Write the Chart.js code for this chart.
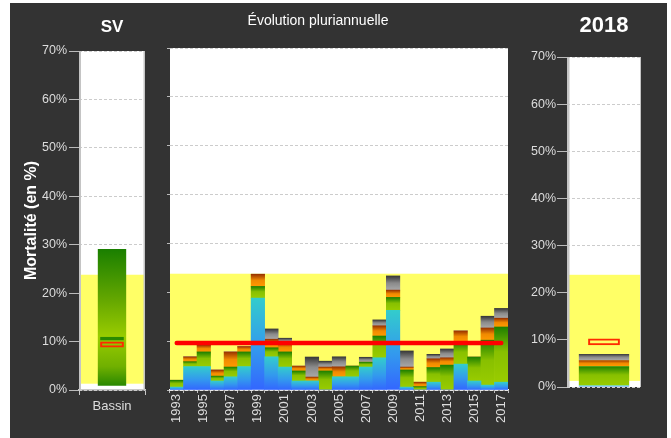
<!DOCTYPE html>
<html>
<head>
<meta charset="utf-8">
<script src="https://cdn.jsdelivr.net/npm/chart.js@4"></script>
<style>
  html, body { margin: 0; padding: 0; background: #ffffff; }
  body { width: 671px; height: 438px; position: relative; overflow: hidden; }
  #frame { position: absolute; left: 10px; top: 3px; width: 657px; height: 435px; background: #333333; }
  canvas { position: absolute; top: 3px; }
</style>
</head>
<body>
<div id="frame"></div>
<canvas id="basin" width="150" height="435" style="left:10px"></canvas>
<canvas id="history" width="360" height="435" style="left:160px"></canvas>
<canvas id="current" width="147" height="435" style="left:520px"></canvas>
<script>
// multi-year history, % mortality split by cause
const years = ['1993', '1994', '1995', '1996', '1997', '1998', '1999', '2000', '2001', '2002', '2003', '2004', '2005',
               '2006', '2007', '2008', '2009', '2010', '2011', '2012', '2013', '2014', '2015', '2016', '2017']
const blue   = [0.6, 4.8, 4.8, 1.85, 2.7, 4.8, 18.8, 6.8, 4.7, 1.85, 1.85, 0, 2.7, 2.7, 4.7, 6.6, 16.3, 0.6, 0, 1.6, 0, 5.3, 1.85, 1.0, 1.6]
const green  = [1.4, 1.0, 3.0, 1.0, 2.0, 3.0, 2.4, 1.85, 3.1, 2.05, 0, 3.9, 0, 2.2, 1.0, 4.45, 2.65, 3.5, 0.7, 3.0, 5.1, 4.5, 4.9, 9.2, 11.3]
const orange = [0, 1.0, 1.4, 1.25, 3.1, 1.1, 2.5, 1.75, 1.9, 1.0, 0.8, 0.8, 2.05, 0, 0, 2.1, 1.5, 0.6, 0.9, 1.8, 1.5, 2.3, 0, 2.5, 1.8]
const grey   = [0, 0, 0, 0, 0, 0, 0, 2.1, 0.9, 0, 4.1, 1.2, 2.05, 0, 1.0, 1.2, 2.9, 3.3, 0, 0.9, 1.8, 0, 0, 2.4, 2.0]
const meanValue = 9.6

// basin summary
const basinLabels = ['Bassin']
const basinRange  = [0.9, 29.1]
const basinMedian = [10.2, 11.0]
const basinMean   = [8.8, 10.0]

// current year
const currentLabels = ['2018']
const currentBlue   = [0.3]
const currentGreen  = [4.1]
const currentOrange = [1.3]
const currentGrey   = [1.3]
const currentMean   = [8.85, 10.3]

// reference band and axis
const bandLow = 1.3
const bandHigh = 23.8
const yMax = 70
const yStep = 10

const blueStops   = [[0, '#3366ff'], [0.45, '#3399ee'], [1, '#33cccc']]
const greenStops  = [[0, '#99cc00'], [0.55, '#88c000'], [1, '#1f8000']]
const orangeStops = [[0, '#ff9900'], [0.5, '#f08a00'], [1, '#993300']]
const greyStops   = [[0, '#a8a8a8'], [0.5, '#8a8a8a'], [1, '#383838']]
const basinStops  = [[0, '#2a8800'], [0.14, '#70b000'], [0.36, '#99cc00'], [0.62, '#66a800'], [1, '#1a7f00']]

Chart.defaults.font.family = '"Liberation Sans", Arial, sans-serif'
Chart.defaults.color = '#dddddd'

// vertical gradient over one bar segment, computed through the y scale
function segmentFill(stops) {
    return c => {
        const chart = c.chart
        const yScale = chart.scales.y
        if (c.type !== 'data' || !yScale) return stops[0][1]
        const sets = chart.data.datasets
        const me = sets[c.datasetIndex]
        const raw = me.data[c.dataIndex]
        let lo, hi
        if (Array.isArray(raw)) {
            lo = raw[0]; hi = raw[1]
        } else {
            lo = 0
            for (let k = 0; k < c.datasetIndex; k++) {
                if (sets[k].stack === me.stack) lo += +sets[k].data[c.dataIndex] || 0
            }
            hi = lo + (+raw || 0)
        }
        const y0 = yScale.getPixelForValue(lo)
        const y1 = yScale.getPixelForValue(hi)
        if (!isFinite(y0) || !isFinite(y1) || Math.abs(y0 - y1) < 0.5) return stops[0][1]
        const g = chart.ctx.createLinearGradient(0, y0, 0, y1)
        stops.forEach(s => g.addColorStop(s[0], s[1]))
        return g
    }
}

const panel = {
    id: 'panel',
    beforeDraw(chart) {
        const { ctx, chartArea: a } = chart
        ctx.save()
        ctx.fillStyle = '#ffffff'
        ctx.fillRect(a.left, a.top, a.width, a.height)
        ctx.restore()
    },
    beforeDatasetsDraw(chart, args, opts) {
        const { ctx, chartArea: a, scales: { y } } = chart
        const top = y.getPixelForValue(opts.high)
        const bottom = y.getPixelForValue(opts.low)
        ctx.save()
        ctx.fillStyle = '#ffff66'
        ctx.fillRect(a.left, top, a.width, bottom - top)
        ctx.restore()
    },
    afterDraw(chart, args, opts) {
        const { ctx, chartArea: a } = chart
        ctx.save()
        ctx.strokeStyle = '#c4c4c4'
        if (opts.leftBorder) {
            ctx.lineWidth = opts.leftBorder
            ctx.beginPath(); ctx.moveTo(a.left + opts.leftBorder / 2, a.top); ctx.lineTo(a.left + opts.leftBorder / 2, a.bottom); ctx.stroke()
        }
        if (opts.rightBorder) {
            ctx.lineWidth = opts.rightBorder
            ctx.beginPath(); ctx.moveTo(a.right - opts.rightBorder / 2, a.top); ctx.lineTo(a.right - opts.rightBorder / 2, a.bottom); ctx.stroke()
        }
        if (opts.title) {
            ctx.fillStyle = '#ffffff'
            ctx.font = opts.titleFont
            ctx.textAlign = 'center'
            ctx.textBaseline = 'middle'
            ctx.fillText(opts.title, (a.left + a.right) / 2 + (opts.titleDx || 0), opts.titleY)
        }
        ctx.restore()
    }
}

const tickFont = { size: 12.5 }
const gridStyle = { color: '#cccccc', tickColor: '#bbbbbb', lineWidth: 1 }
const percent = v => v + '%'

// left: basin
new Chart(document.getElementById('basin'), {
    type: 'bar',
    data: {
        labels: basinLabels,
        datasets: [
            { data: [basinMedian], backgroundColor: 'rgba(0,0,0,0)', borderColor: '#2a8a00', borderWidth: 2, borderSkipped: false,
              grouped: false, barPercentage: 0.36, categoryPercentage: 1, order: 1 },
            { data: [basinMean], backgroundColor: 'rgba(0,0,0,0)', borderColor: '#ff2a00', borderWidth: 2, borderSkipped: false,
              grouped: false, barPercentage: 0.36, categoryPercentage: 1, order: 1 },
            { data: [basinRange], backgroundColor: segmentFill(basinStops),
              grouped: false, barPercentage: 0.43, categoryPercentage: 1, order: 2 }
        ]
    },
    options: {
        responsive: false, animation: false, events: [],
        layout: { padding: { top: 48, right: 15, left: 0, bottom: 0 } },
        plugins: {
            legend: { display: false }, tooltip: { enabled: false },
            panel: { low: bandLow, high: bandHigh, leftBorder: 2, rightBorder: 1.5,
                     title: 'SV', titleFont: 'bold 17px "Liberation Sans", Arial, sans-serif', titleY: 24 }
        },
        scales: {
            x: {
                grid: { offset: true, drawOnChartArea: false, tickLength: 5, tickColor: '#c8c8c8' },
                border: { color: '#c8c8c8', width: 1.5 },
                ticks: { font: { size: 13 }, padding: 4, color: '#dddddd' },
                afterFit: s => { s.height = 48 }
            },
            y: {
                min: 0, max: yMax,
                grid: { ...gridStyle, tickLength: 10 },
                border: { display: false, dash: [3, 2] },
                ticks: { stepSize: yStep, callback: percent, font: tickFont, padding: 2 },
                title: { display: true, text: 'Mortalité (en %)', color: '#ffffff',
                         font: { size: 16, weight: 'bold' }, padding: { top: 12, bottom: 0 } },
                afterFit: s => { s.width = 69 }
            }
        }
    },
    plugins: [panel]
})

// middle: multi-year evolution
new Chart(document.getElementById('history'), {
    type: 'bar',
    data: {
        labels: years,
        datasets: [
            { data: blue, backgroundColor: segmentFill(blueStops), stack: 's', order: 1 },
            { data: green, backgroundColor: segmentFill(greenStops), stack: 's', order: 1 },
            { data: orange, backgroundColor: segmentFill(orangeStops), stack: 's', order: 1 },
            { data: grey, backgroundColor: segmentFill(greyStops), stack: 's', order: 1 },
            { type: 'line', data: [{ x: years[0], y: meanValue }, { x: years[years.length - 1], y: meanValue }],
              borderColor: '#ff0000', borderWidth: 4.5, borderCapStyle: 'round', pointRadius: 0, order: 0 }
        ]
    },
    options: {
        responsive: false, animation: false, events: [],
        barPercentage: 1, categoryPercentage: 1,
        layout: { padding: { top: 45, right: 12, left: 0, bottom: 0 } },
        plugins: {
            legend: { display: false }, tooltip: { enabled: false },
            panel: { low: bandLow, high: bandHigh,
                     title: 'Évolution pluriannuelle', titleFont: '14px "Liberation Sans", Arial, sans-serif',
                     titleY: 18, titleDx: -21 }
        },
        scales: {
            x: {
                stacked: true,
                grid: { offset: true, drawOnChartArea: false, tickLength: 3, tickColor: '#bbbbbb' },
                border: { color: '#ffffff', width: 1.5 },
                ticks: { autoSkip: false, minRotation: 90, maxRotation: 90, padding: 1, font: { size: 13 },
                         callback: (v, i) => (i % 2 === 0 ? years[i] : '') },
                afterFit: s => { s.height = 48 }
            },
            y: {
                stacked: true, min: 0, max: yMax,
                grid: { ...gridStyle, tickLength: 3 },
                border: { display: false, dash: [3, 2] },
                ticks: { stepSize: yStep, display: false },
                afterFit: s => { s.width = 10 }
            }
        }
    },
    plugins: [panel]
})

// right: current year
new Chart(document.getElementById('current'), {
    type: 'bar',
    data: {
        labels: currentLabels,
        datasets: [
            { data: currentBlue, backgroundColor: segmentFill(blueStops), stack: 'now', grouped: false, order: 2 },
            { data: currentGreen, backgroundColor: segmentFill(greenStops), stack: 'now', grouped: false, order: 2 },
            { data: currentOrange, backgroundColor: segmentFill(orangeStops), stack: 'now', grouped: false, order: 2 },
            { data: currentGrey, backgroundColor: segmentFill(greyStops), stack: 'now', grouped: false, order: 2 },
            { data: [currentMean], backgroundColor: 'rgba(0,0,0,0)', borderColor: '#ff2a00', borderWidth: 2, borderSkipped: false,
              stack: 'ref', grouped: false, barPercentage: 0.43, order: 1 }
        ]
    },
    options: {
        responsive: false, animation: false, events: [],
        barPercentage: 0.68, categoryPercentage: 1,
        layout: { padding: { top: 54, right: 26, left: 0, bottom: 0 } },
        plugins: {
            legend: { display: false }, tooltip: { enabled: false },
            panel: { low: bandLow, high: bandHigh, leftBorder: 2.5, rightBorder: 1,
                     title: '2018', titleFont: 'bold 22px "Liberation Sans", Arial, sans-serif', titleY: 23 }
        },
        scales: {
            x: {
                grid: { display: false },
                border: { display: false },
                ticks: { display: false },
                afterFit: s => { s.height = 51 }
            },
            y: {
                stacked: true, min: 0, max: yMax,
                grid: { ...gridStyle, tickLength: 10 },
                border: { display: false, dash: [3, 2] },
                ticks: { stepSize: yStep, callback: percent, font: tickFont, padding: 1 },
                afterFit: s => { s.width = 47 }
            }
        }
    },
    plugins: [panel]
})
</script>
</body>
</html>
